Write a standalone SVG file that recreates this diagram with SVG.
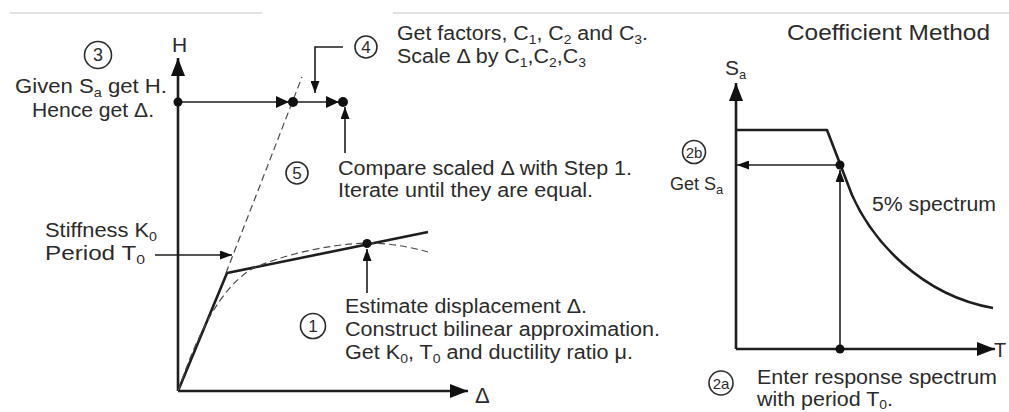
<svg xmlns="http://www.w3.org/2000/svg" width="1009" height="412" viewBox="0 0 1009 412">
<style>
text{font-family:"Liberation Sans",Arial,Helvetica,sans-serif;fill:#2b2b2b;font-size:20px}
.sub{font-size:13px}
.ln{stroke:#1e1e1e;stroke-width:1.6;fill:none}
.ax{stroke:#1e1e1e;stroke-width:2.6;fill:none}
.thick{stroke:#1e1e1e;stroke-width:2.6;fill:none;stroke-linejoin:round}
.dash{stroke:#4a4a4a;stroke-width:1.2;fill:none;stroke-dasharray:7 4}
.circ{fill:none;stroke:#2b2b2b;stroke-width:1.6}
.dot{fill:#111}
.num{text-anchor:middle;font-size:17px}
.frame{stroke:#e2e2e2;stroke-width:2;fill:none}
.head{fill:#111}
</style>
<defs>
<marker id="arr" viewBox="0 0 12 9" refX="12" refY="4.5" markerWidth="12" markerHeight="9" markerUnits="userSpaceOnUse" orient="auto"><path d="M0,0 L12,4.5 L0,9 z" fill="#111"/></marker>
<marker id="arrBig" viewBox="0 0 18 14" refX="18" refY="7" markerWidth="18" markerHeight="14" markerUnits="userSpaceOnUse" orient="auto"><path d="M0,0 L18,7 L0,14 z" fill="#111"/></marker>
</defs>
<rect width="1009" height="412" fill="#fff"/>
<g id="frame">
<line class="frame" x1="10" y1="13" x2="262" y2="13"/>
<line class="frame" x1="393" y1="13" x2="1009" y2="13"/>
</g>

<g id="pushover-plot">
<line class="ax" x1="178" y1="391" x2="178" y2="58" marker-end="url(#arrBig)"/>
<line class="ax" x1="178" y1="391" x2="468" y2="391" marker-end="url(#arrBig)"/>
<text x="172" y="52" style="font-size:21px">H</text>
<text x="475" y="403" style="font-size:22px">Δ</text>
<polyline class="thick" points="178,391 227,273 428,232"/>
<line class="dash" x1="226" y1="273" x2="302" y2="77"/>
<path class="dash" d="M178,391 C198,332 220,290 250,270 C280,255 330,244 367,243 C390,243 410,247 428,252"/>
<circle class="dot" cx="367" cy="243.5" r="4.5"/>
</g>

<g id="spectrum-plot">
<line class="ax" x1="736" y1="349" x2="736" y2="83" marker-end="url(#arrBig)"/>
<line class="ax" x1="736" y1="349" x2="995" y2="349" marker-end="url(#arrBig)"/>
<text x="725" y="75" style="font-size:21px">S<tspan class="sub" dy="4">a</tspan></text>
<text x="994" y="357" style="font-size:20px">T</text>
<path class="thick" d="M736,130 L827,130 L852,195 C872,240 920,295 993,308"/>
<text x="872" y="211" textLength="124" lengthAdjust="spacingAndGlyphs">5% spectrum</text>
</g>

<g id="title">
<text x="787" y="40" textLength="203" lengthAdjust="spacingAndGlyphs" style="font-size:22px">Coefficient Method</text>
</g>

<g id="connectors">
<line class="ln" x1="178" y1="102" x2="343" y2="102"/>
<path class="head" d="M276,96 L289,102 L276,108 z"/>
<path class="head" d="M326,96 L339,102 L326,108 z"/>
<polyline class="ln" points="343,47 315,47 315,93" marker-end="url(#arr)"/>
<line class="ln" x1="345" y1="153" x2="345" y2="107" marker-end="url(#arr)"/>
<line class="ln" x1="155" y1="255" x2="232" y2="255" marker-end="url(#arr)"/>
<line class="ln" x1="367" y1="293" x2="367" y2="249" marker-end="url(#arr)"/>
<line class="ln" x1="840" y1="165" x2="737" y2="165" marker-end="url(#arr)"/>
<line class="ln" x1="840" y1="349" x2="840" y2="170" marker-end="url(#arr)"/>
<circle class="dot" cx="178" cy="102" r="4.5"/>
<circle class="dot" cx="293" cy="102" r="5"/>
<circle class="dot" cx="343" cy="102" r="5"/>
<circle class="dot" cx="840" cy="165" r="4.5"/>
<circle class="dot" cx="840" cy="349" r="4.5"/>
</g>

<g id="step3">
<circle class="circ" cx="98" cy="55" r="13.5"/>
<text class="num" x="98" y="61" style="font-size:18px">3</text>
<text x="15" y="93" textLength="152" lengthAdjust="spacingAndGlyphs">Given S<tspan class="sub" dy="4">a</tspan><tspan dy="-4"> get H.</tspan></text>
<text x="32" y="117" textLength="122" lengthAdjust="spacingAndGlyphs">Hence get Δ.</text>
</g>

<g id="step4">
<circle class="circ" cx="366" cy="47" r="11"/>
<text class="num" x="366" y="53">4</text>
<text x="397" y="40" textLength="251" lengthAdjust="spacingAndGlyphs">Get factors, C<tspan class="sub" dy="4">1</tspan><tspan dy="-4">, C</tspan><tspan class="sub" dy="4">2</tspan><tspan dy="-4"> and C</tspan><tspan class="sub" dy="4">3</tspan><tspan dy="-4">.</tspan></text>
<text x="397" y="63" textLength="189" lengthAdjust="spacingAndGlyphs">Scale Δ by C<tspan class="sub" dy="4">1</tspan><tspan dy="-4">,C</tspan><tspan class="sub" dy="4">2</tspan><tspan dy="-4">,C</tspan><tspan class="sub" dy="4">3</tspan></text>
</g>

<g id="step5">
<circle class="circ" cx="297" cy="173" r="11"/>
<text class="num" x="297" y="179">5</text>
<text x="338" y="175" textLength="294" lengthAdjust="spacingAndGlyphs">Compare scaled Δ with Step 1.</text>
<text x="338" y="197" textLength="255" lengthAdjust="spacingAndGlyphs">Iterate until they are equal.</text>
</g>

<g id="stiffness">
<text x="45" y="237" textLength="112" lengthAdjust="spacingAndGlyphs">Stiffness K<tspan class="sub" dy="4">0</tspan></text>
<text x="45" y="260" textLength="100" lengthAdjust="spacingAndGlyphs">Period T<tspan class="sub" dy="4">0</tspan></text>
</g>

<g id="step1">
<circle class="circ" cx="313" cy="326" r="12.5"/>
<text class="num" x="313" y="332">1</text>
<text x="345" y="313" textLength="242" lengthAdjust="spacingAndGlyphs">Estimate displacement Δ.</text>
<text x="345" y="336" textLength="315" lengthAdjust="spacingAndGlyphs">Construct bilinear approximation.</text>
<text x="345" y="359" textLength="288" lengthAdjust="spacingAndGlyphs">Get K<tspan class="sub" dy="4">0</tspan><tspan dy="-4">, T</tspan><tspan class="sub" dy="4">0</tspan><tspan dy="-4"> and ductility ratio μ.</tspan></text>
</g>

<g id="step2b">
<circle class="circ" cx="694" cy="152" r="11.5"/>
<text class="num" x="694" y="157.5" style="font-size:15px">2b</text>
<text x="670" y="190" style="font-size:18px">Get S<tspan class="sub" dy="4">a</tspan></text>
</g>

<g id="step2a">
<circle class="circ" cx="721" cy="383" r="12"/>
<text class="num" x="721" y="388.5" style="font-size:15px">2a</text>
<text x="757" y="384" textLength="240" lengthAdjust="spacingAndGlyphs">Enter response spectrum</text>
<text x="757" y="406" textLength="136" lengthAdjust="spacingAndGlyphs">with period T<tspan class="sub" dy="3">0</tspan><tspan dy="-3">.</tspan></text>
</g>
</svg>
